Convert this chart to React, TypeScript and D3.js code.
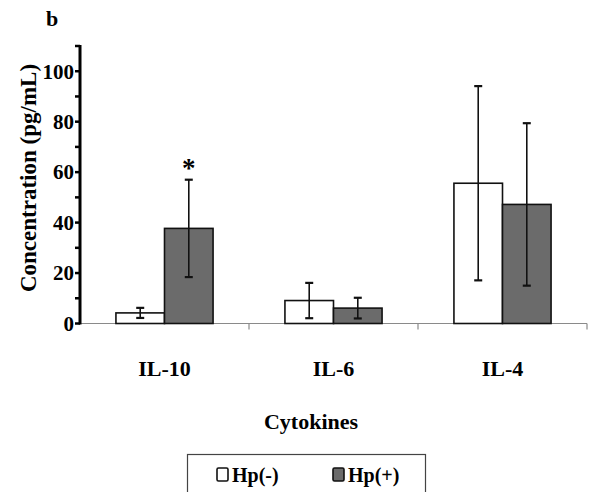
import React, { useEffect, useRef } from 'react'
import * as d3 from 'd3'

const categories = ['IL-10', 'IL-6', 'IL-4']
const groups = ['Hp(-)', 'Hp(+)']
const hpNegMean = [4.2, 9.1, 55.6]
const hpNegErr = [2.0, 7.0, 38.5]
const hpPosMean = [37.7, 6.1, 47.2]
const hpPosErr = [19.3, 4.1, 32.2]
const yTicks = [0, 10, 20, 30, 40, 50, 60, 70, 80, 90, 100, 110]
const yLabels = [0, 20, 40, 60, 80, 100]
const signif = [true, false, false] // asterisk over Hp(+)

const FONT = '"Liberation Serif", "Times New Roman", serif'
const fills = ['#ffffff', '#6b6b6b']

export default function App() {
  const ref = useRef<SVGSVGElement>(null)

  useEffect(() => {
    const svg = d3.select(ref.current)
    svg.selectAll('*').remove()

    const x0 = 80, x1 = 587, yBase = 323.5, yTop = 46

    const x = d3.scaleBand().domain(categories).range([x0, x1]).padding(0)
    const xi = d3.scaleBand().domain(groups).range([0, x.bandwidth()])
      .paddingInner(0).paddingOuter(0.74)
    const y = d3.scaleLinear().domain([0, 110]).range([yBase, yTop])

    const rows = categories.flatMap((c, i) => [
      { cat: c, g: groups[0], v: hpNegMean[i], e: hpNegErr[i], k: 0, star: false },
      { cat: c, g: groups[1], v: hpPosMean[i], e: hpPosErr[i], k: 1, star: signif[i] },
    ])

    // x axis (thin grey)
    const gx = svg.append('g')
    gx.append('line')
      .attr('x1', x0).attr('x2', x1).attr('y1', yBase).attr('y2', yBase)
      .attr('stroke', '#8a8a8a').attr('stroke-width', 1.2)
    gx.selectAll('line.tk')
      .data(categories.slice(1).map(c => x(c)!).concat([x1]))
      .enter().append('line')
      .attr('x1', d => d).attr('x2', d => d)
      .attr('y1', yBase).attr('y2', yBase + 6)
      .attr('stroke', '#8a8a8a').attr('stroke-width', 1.2)

    // bars
    svg.append('g').selectAll('rect')
      .data(rows).enter().append('rect')
      .attr('x', d => x(d.cat)! + xi(d.g)!)
      .attr('y', d => y(d.v))
      .attr('width', xi.bandwidth())
      .attr('height', d => yBase - y(d.v))
      .attr('fill', d => fills[d.k])
      .attr('stroke', '#111').attr('stroke-width', 1.6)

    // error bars
    const eb = svg.append('g').attr('stroke', '#111').attr('stroke-width', 1.6)
    rows.forEach(d => {
      const cx = x(d.cat)! + xi(d.g)! + xi.bandwidth() / 2
      const hi = y(d.v + d.e), lo = y(Math.max(0, d.v - d.e))
      eb.append('line').attr('x1', cx).attr('x2', cx).attr('y1', hi).attr('y2', lo)
      eb.append('line').attr('x1', cx - 4).attr('x2', cx + 4).attr('y1', hi).attr('y2', hi).attr('stroke-width', 2.2)
      eb.append('line').attr('x1', cx - 4).attr('x2', cx + 4).attr('y1', lo).attr('y2', lo).attr('stroke-width', 2.2)
      if (d.star) {
        svg.append('text').attr('x', cx).attr('y', hi - 3)
          .attr('text-anchor', 'middle').attr('font-family', FONT)
          .attr('font-weight', 'bold').attr('font-size', 27).text('*')
      }
    })

    // y axis (thick black)
    const gy = svg.append('g')
    gy.append('line')
      .attr('x1', x0).attr('x2', x0).attr('y1', y(110) - 1).attr('y2', yBase + 1)
      .attr('stroke', '#000').attr('stroke-width', 3)
    gy.selectAll('line.tk').data(yTicks).enter().append('line')
      .attr('x1', x0 - 5).attr('x2', x0).attr('y1', d => y(d)).attr('y2', d => y(d))
      .attr('stroke', '#000').attr('stroke-width', 2.5)
    gy.selectAll('text').data(yLabels).enter().append('text')
      .attr('x', x0 - 6).attr('y', d => y(d)).attr('dy', '0.35em')
      .attr('text-anchor', 'end').attr('font-family', FONT)
      .attr('font-weight', 'bold').attr('font-size', 21).text(d => d)

    // category labels
    svg.append('g').selectAll('text').data(categories).enter().append('text')
      .attr('x', d => x(d)! + x.bandwidth() / 2).attr('y', 376)
      .attr('text-anchor', 'middle').attr('font-family', FONT)
      .attr('font-weight', 'bold').attr('font-size', 22).text(d => d)

    // titles
    svg.append('text').attr('x', 311).attr('y', 429)
      .attr('text-anchor', 'middle').attr('font-family', FONT)
      .attr('font-weight', 'bold').attr('font-size', 22).text('Cytokines')
    svg.append('text')
      .attr('transform', 'translate(36,178) rotate(-90)')
      .attr('text-anchor', 'middle').attr('font-family', FONT)
      .attr('font-weight', 'bold').attr('font-size', 23).text('Concentration (pg/mL)')
    svg.append('text').attr('x', 46).attr('y', 26)
      .attr('font-family', FONT).attr('font-weight', 'bold').attr('font-size', 22).text('b')

    // legend
    const lg = svg.append('g')
    lg.append('rect').attr('x', 187.5).attr('y', 454.5).attr('width', 238).attr('height', 40)
      .attr('fill', 'none').attr('stroke', '#444').attr('stroke-width', 1.2)
    const lx = [217, 333]
    groups.forEach((g, i) => {
      lg.append('rect').attr('x', lx[i]).attr('y', 468).attr('width', 11).attr('height', 13)
        .attr('rx', 1.5).attr('fill', fills[i]).attr('stroke', '#111').attr('stroke-width', 1.6)
      lg.append('text').attr('x', lx[i] + 15).attr('y', 482)
        .attr('font-family', FONT).attr('font-weight', 'bold').attr('font-size', 20).text(g)
    })
  }, [])

  return (
    <svg ref={ref} width={594} height={492}
      style={{ position: 'absolute', left: 0, top: 0, background: '#fff' }} />
  )
}
